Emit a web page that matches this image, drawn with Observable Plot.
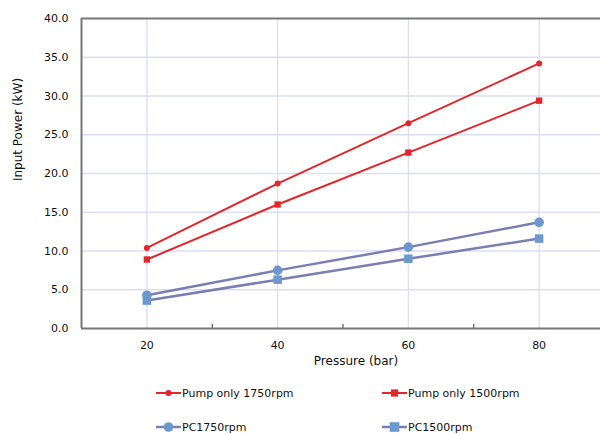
<!DOCTYPE html>
<html>
<head>
<meta charset="utf-8">
<script src="https://cdn.jsdelivr.net/npm/d3@7"></script>
<script src="https://cdn.jsdelivr.net/npm/@observablehq/plot@0.6"></script>
<style>
  html, body { margin: 0; padding: 0; background: #fff; overflow: hidden; }
  body { width: 600px; height: 434px; font-family: "DejaVu Sans", sans-serif; }
  #chart svg { display: block; overflow: hidden; }
  .legend { position: relative; height: 62px; font-size: 11px; color: #111; }
  .item { position: absolute; display: flex; align-items: center; height: 14px; }
  .item svg { display: block; }
</style>
</head>
<body>
<div id="chart"></div>
<div class="legend" id="legend"></div>
<script>
const pressures = [20, 40, 60, 80];
const pumpOnly1750 = [10.4, 18.7, 26.5, 34.2];
const pumpOnly1500 = [8.9, 16.0, 22.7, 29.4];
const pc1750 = [4.3, 7.5, 10.5, 13.7];
const pc1500 = [3.6, 6.3, 9.0, 11.6];
const seriesNames = ["Pump only 1750rpm", "Pump only 1500rpm", "PC1750rpm", "PC1500rpm"];
const yTicks = [0, 5, 10, 15, 20, 25, 30, 35, 40];
const xTicks = [20, 40, 60, 80];
const xMinorTicks = [30, 50, 70];

const RED = "#e3262b";
const LINEBLUE = "#7a7eb2";
const MARKBLUE = "#6d98cd";
const GRID = "#dcddf6";
const FRAME = "#777777";

const styles = [
  {name: seriesNames[0], values: pumpOnly1750, stroke: RED, fill: RED, symbol: "circle", r: 3, sw: 2},
  {name: seriesNames[1], values: pumpOnly1500, stroke: RED, fill: RED, symbol: "square", r: 3.6, sw: 2},
  {name: seriesNames[2], values: pc1750, stroke: LINEBLUE, fill: MARKBLUE, symbol: "circle", r: 4.8, sw: 2.5},
  {name: seriesNames[3], values: pc1500, stroke: LINEBLUE, fill: MARKBLUE, symbol: "square", r: 4.8, sw: 2.5}
];

const marks = [
  Plot.gridY(yTicks.slice(1, -1), {stroke: GRID, strokeOpacity: 1, strokeWidth: 1.3}),
  Plot.gridX(xTicks, {stroke: GRID, strokeOpacity: 1, strokeWidth: 1.3}),
  Plot.axisX({ticks: xMinorTicks, tickSize: 4, dy: -4, tickFormat: () => "", label: null, stroke: "#333"}),
  Plot.axisX({ticks: xTicks, tickSize: 0, tickPadding: 13, label: null, fontSize: 11, fill: "#111"}),
  Plot.axisY({ticks: yTicks, tickSize: 0, tickPadding: 13, tickFormat: d => d.toFixed(1), label: null, fontSize: 11, fill: "#111"}),
  Plot.ruleY([0, 40], {stroke: FRAME, strokeWidth: 2}),
  Plot.ruleX([10], {stroke: FRAME, strokeWidth: 2}),
  Plot.text(["Input Power (kW)"], {frameAnchor: "left", textAnchor: "middle", rotate: -90, dx: -63, dy: -44, fontSize: 12, fill: "#111"}),
  Plot.text(["Pressure (bar)"], {frameAnchor: "bottom", dx: 15, dy: 36, fontSize: 12, fill: "#111"})
];

for (const s of styles) {
  const data = pressures.map((p, i) => ({x: p, y: s.values[i]}));
  marks.push(Plot.line(data, {x: "x", y: "y", stroke: s.stroke, strokeWidth: s.sw}));
  marks.push(Plot.dot(data, {x: "x", y: "y", symbol: s.symbol, r: s.r, fill: s.fill, stroke: "none"}));
}

const chart = Plot.plot({
  width: 600,
  height: 372,
  marginTop: 18,
  marginBottom: 44,
  marginLeft: 81,
  marginRight: 0,
  style: {fontFamily: "DejaVu Sans, sans-serif", background: "#fff"},
  x: {domain: [10, 90], range: [81, 604]},
  y: {domain: [0, 40]},
  marks
});
document.getElementById("chart").appendChild(chart);

// Legend
const legend = document.getElementById("legend");
const positions = [[156, 14], [382, 14], [156, 48], [382, 48]];
styles.forEach((s, i) => {
  const div = document.createElement("div");
  div.className = "item";
  div.style.left = positions[i][0] + "px";
  div.style.top = positions[i][1] + "px";
  const sw = d3.create("svg").attr("width", 25).attr("height", 14);
  sw.append("line").attr("x1", 0).attr("x2", 25).attr("y1", 7).attr("y2", 7)
    .attr("stroke", s.stroke).attr("stroke-width", s.sw);
  if (s.symbol === "circle") {
    sw.append("circle").attr("cx", 12.5).attr("cy", 7).attr("r", s.r).attr("fill", s.fill);
  } else {
    sw.append("rect").attr("x", 12.5 - s.r).attr("y", 7 - s.r).attr("width", 2 * s.r).attr("height", 2 * s.r).attr("fill", s.fill);
  }
  div.appendChild(sw.node());
  const t = document.createElement("span");
  t.textContent = s.name;
  t.style.marginLeft = "1px";
  div.appendChild(t);
  legend.appendChild(div);
});
</script>
</body>
</html>
